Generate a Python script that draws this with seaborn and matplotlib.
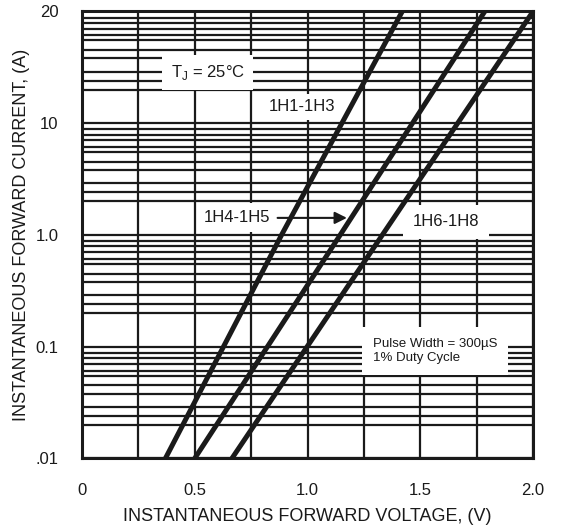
import numpy as np
import pandas as pd
import matplotlib
matplotlib.use("Agg")
import matplotlib.pyplot as plt
from matplotlib.ticker import FixedLocator, NullFormatter
import seaborn as sns

# --- data (V, A); top gridline of the chart is labelled "20" ---
serie = ["1H1-1H3", "1H4-1H5", "1H6-1H8"]
napon_a = [0.37, 0.885, 1.42]
struja_a = [0.01, 1.0, 100.0]
napon_b = [0.50, 1.145, 1.786]
struja_b = [0.01, 1.0, 100.0]
napon_c = [0.665, 1.332, 2.0]
struja_c = [0.01, 1.0, 100.0]

x_tikovi = [0, 0.5, 1.0, 1.5, 2.0]
x_oznake = ["0", "0.5", "1.0", "1.5", "2.0"]
y_tikovi = [0.01, 0.1, 1, 10, 100]
y_oznake = [".01", "0.1", "1.0", "10", "20"]
# positions of the (irregular) minor gridlines inside each decade
podela = [2, 2.4, 2.9, 3.8, 4.5, 5.5, 6.1, 7, 7.9, 8.8]

df = pd.DataFrame({
    "napon": napon_a + napon_b + napon_c,
    "struja": struja_a + struja_b + struja_c,
    "serija": [serie[0]] * 3 + [serie[1]] * 3 + [serie[2]] * 3,
})

sns.set_theme(style="white")
plt.rcParams["font.family"] = ["Liberation Sans", "DejaVu Sans"]
plt.rcParams["mathtext.fontset"] = "custom"
plt.rcParams["mathtext.rm"] = "Liberation Sans"

CRNA = "#1a1a1a"

fig = plt.figure(figsize=(5.61, 5.29), dpi=100)
ax = fig.add_axes([0.1462, 0.1336, 0.8039, 0.8447])

sns.lineplot(data=df, x="napon", y="struja", hue="serija",
             palette={s: CRNA for s in serie}, linewidth=3.6,
             legend=False, ax=ax, zorder=5)

ax.set_yscale("log")
ax.set_xlim(0, 2.0)
ax.set_ylim(0.01, 100)

ax.set_xticks(x_tikovi)
ax.set_xticklabels(x_oznake, fontsize=12, color=CRNA)
ax.xaxis.set_minor_locator(FixedLocator([0.25, 0.75, 1.25, 1.75]))

ax.yaxis.set_major_locator(FixedLocator(y_tikovi))
ax.set_yticklabels(y_oznake, fontsize=12, color=CRNA)
manji = [d * p for d in [0.01, 0.1, 1, 10] for p in podela]
ax.yaxis.set_minor_locator(FixedLocator(manji))
ax.yaxis.set_minor_formatter(NullFormatter())

ax.tick_params(which="both", length=0)
ax.tick_params(axis="x", pad=18)
ax.tick_params(axis="y", pad=17)

ax.grid(which="both", color=CRNA, linewidth=1.6)
ax.set_axisbelow(True)
for s in ax.spines.values():
    s.set_color(CRNA)
    s.set_linewidth(2.2)

ax.set_xlabel("INSTANTANEOUS FORWARD VOLTAGE, (V)", fontsize=13, color=CRNA)
ax.set_ylabel("INSTANTANEOUS FORWARD CURRENT, (A)", fontsize=13, color=CRNA)
ax.xaxis.set_label_coords(0.5, -0.112)
ax.yaxis.set_label_coords(-0.115, 0.5)

kutija = dict(facecolor="white", edgecolor="none")

ax.text(0.558, 28.4, r"T$_\mathregular{J}$ = 25°C", fontsize=12,
        ha="center", va="center", color=CRNA, zorder=4,
        bbox=dict(kutija, pad=6))
ax.text(0.975, 14.0, "1H1-1H3", fontsize=12, ha="center", va="center",
        color=CRNA, zorder=4, bbox=dict(kutija, pad=4))
ax.text(0.687, 1.42, "1H4-1H5", fontsize=12, ha="center", va="center",
        color=CRNA, zorder=4, bbox=dict(kutija, pad=5))
ax.annotate("", xy=(1.187, 1.42), xytext=(0.855, 1.42),
            arrowprops=dict(arrowstyle="-|>", color=CRNA, lw=1.5,
                            mutation_scale=18), zorder=4)
ax.text(1.613, 1.31, "1H6-1H8", fontsize=12, ha="center", va="center",
        color=CRNA, zorder=4, bbox=dict(kutija, pad=7))
ax.text(1.289, 0.0915, "Pulse Width = 300\u00b5S\n1% Duty Cycle", fontsize=9.5,
        ha="left", va="center", color=CRNA, zorder=4, linespacing=1.15,
        bbox=dict(kutija, pad=8))

fig.savefig("out.png", dpi=100)
